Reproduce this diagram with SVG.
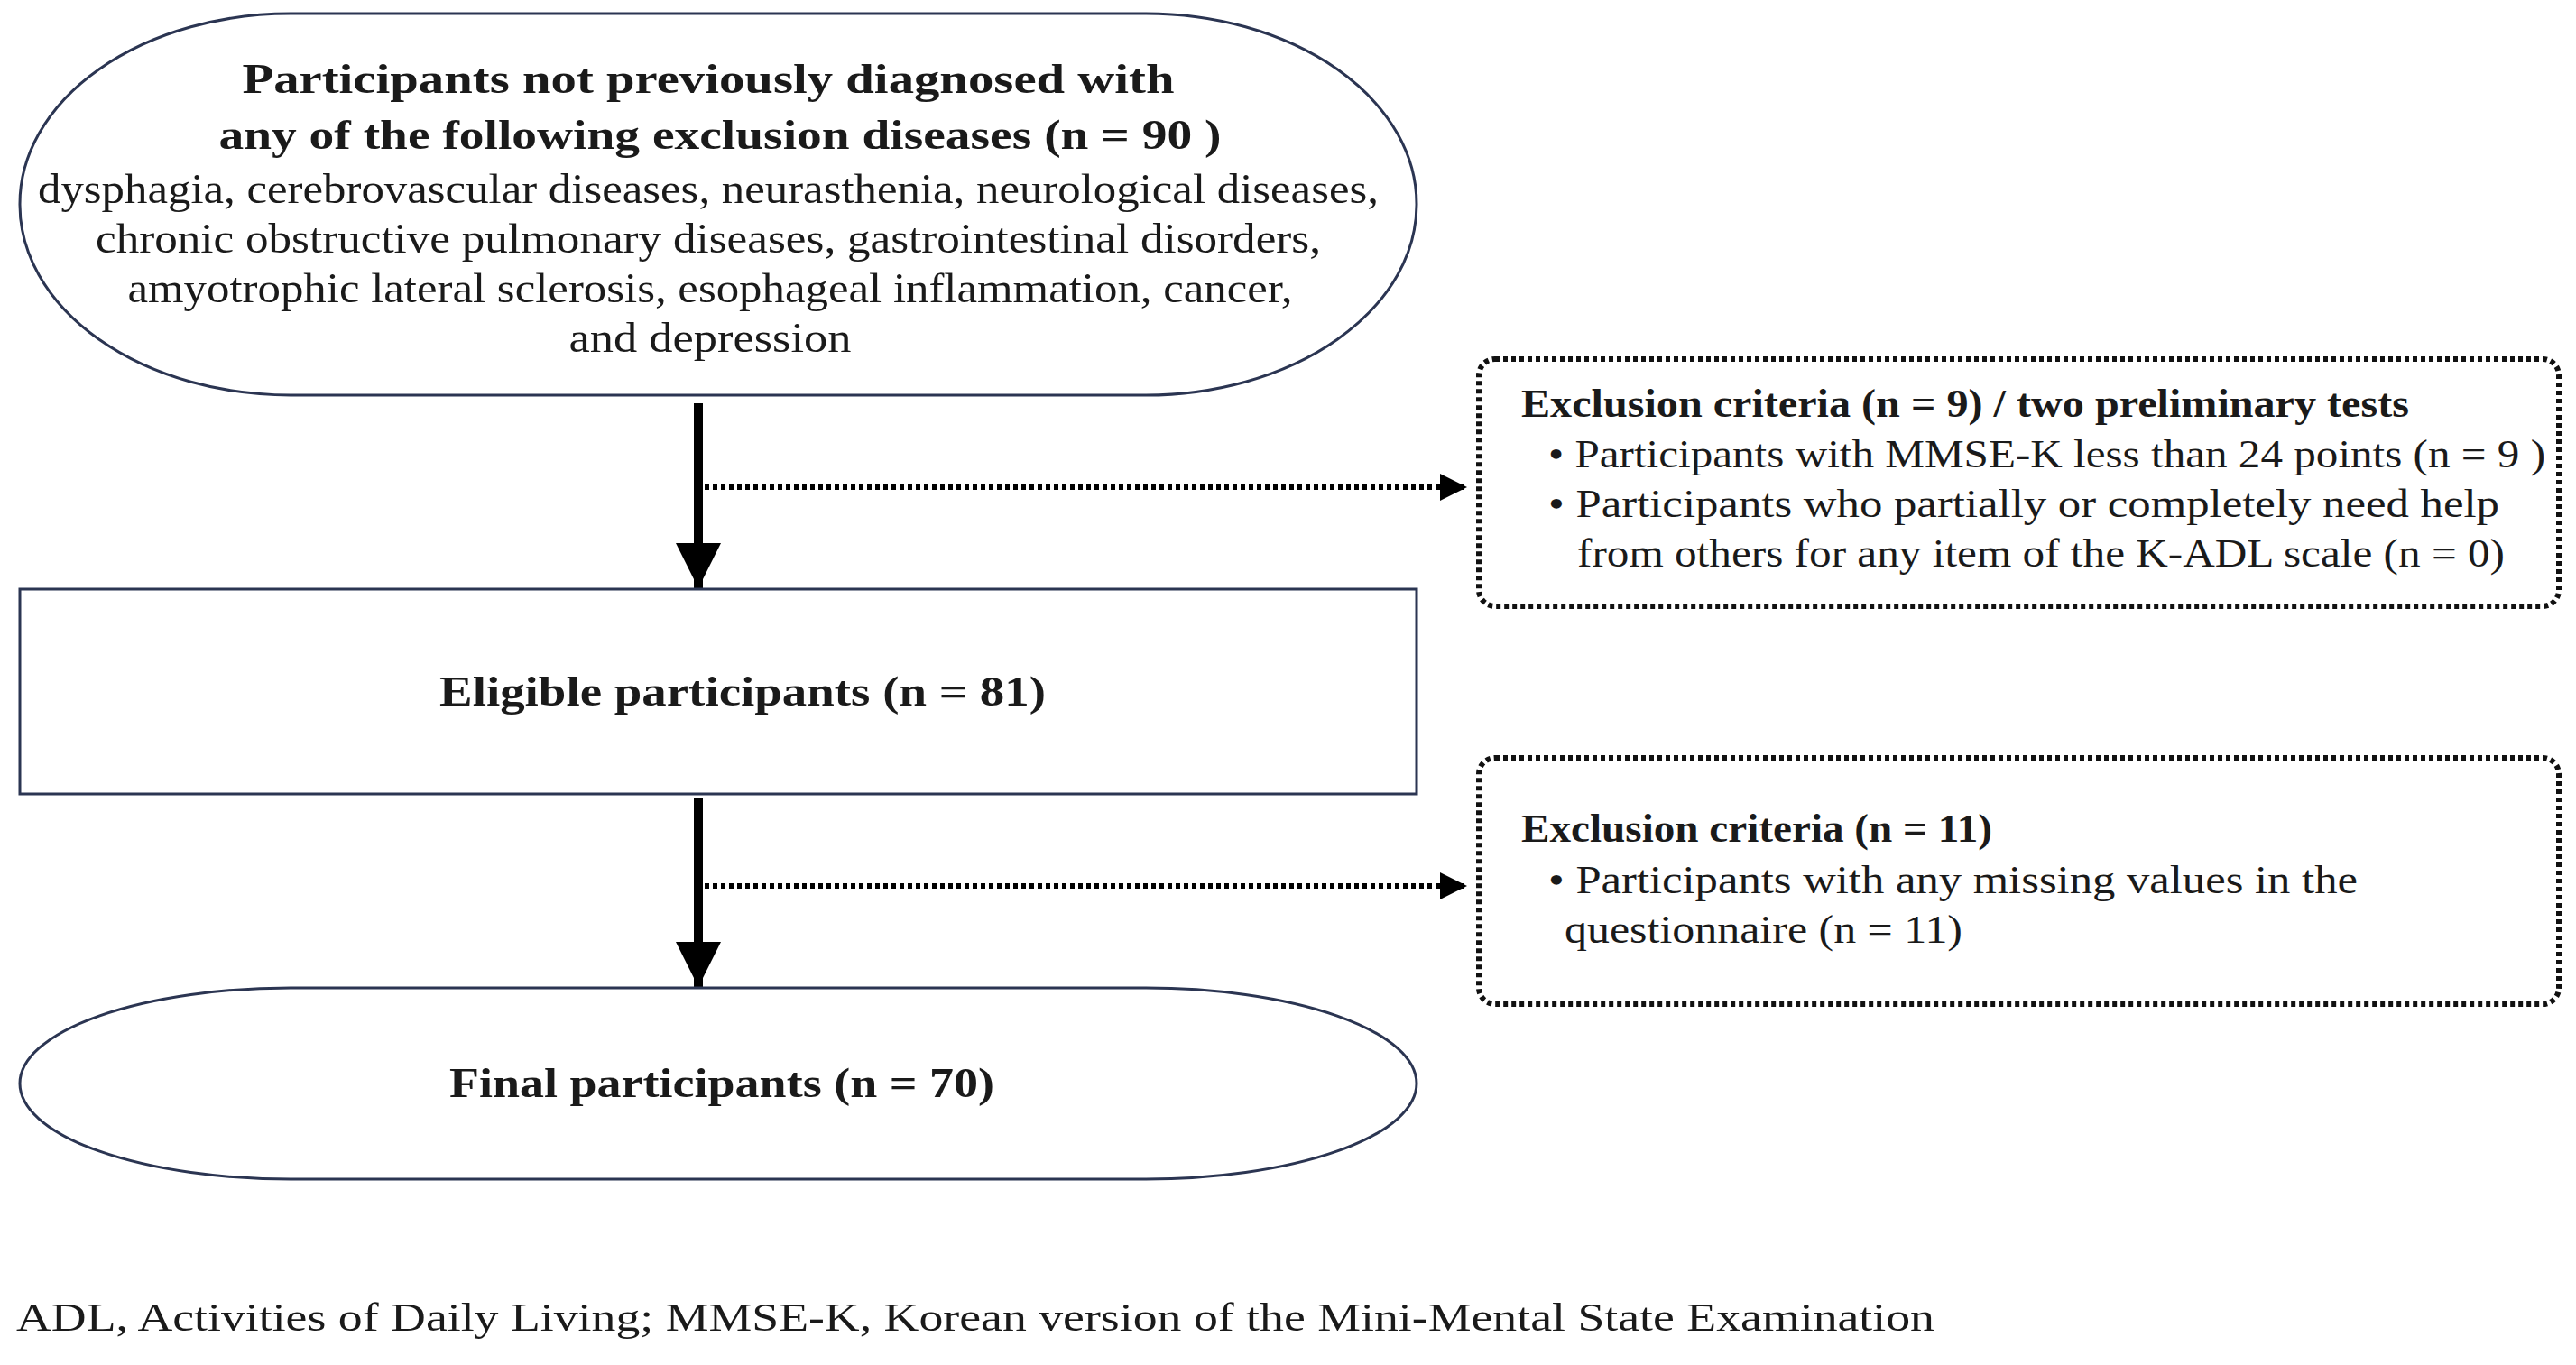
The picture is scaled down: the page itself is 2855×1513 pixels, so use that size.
<svg xmlns="http://www.w3.org/2000/svg" width="2855" height="1513" viewBox="0 0 2855 1513">
<style>
text{font-family:"Liberation Serif","DejaVu Serif",serif;fill:#1a1a1a}
.b{font-weight:bold;font-size:46px}
.r{font-size:46px}
.s{font-size:44px}
.n{fill:#fff;stroke:#2b3552;stroke-width:3}
.d{fill:none;stroke:#111;stroke-width:6;stroke-dasharray:5 4}
.a{stroke:#000;stroke-width:10;fill:none}
.da{stroke:#000;stroke-width:6;stroke-dasharray:5 4;fill:none}
</style>
<defs>
<marker id="ah" viewBox="0 0 10 10" refX="10" refY="5" markerWidth="5" markerHeight="5" orient="auto" markerUnits="strokeWidth"><path d="M0,0 L10,5 L0,10 z" fill="#000"/></marker>
<marker id="ah2" viewBox="0 0 10 10" refX="10" refY="5" markerWidth="5" markerHeight="5" orient="auto" markerUnits="strokeWidth"><path d="M0,0 L10,5 L0,10 z" fill="#000"/></marker>
</defs>
<rect width="2855" height="1513" fill="#fff"/>
<g id="connectors">
<line class="a" x1="774" y1="447" x2="774" y2="652" marker-end="url(#ah)"/>
<line class="a" x1="774" y1="885" x2="774" y2="1094" marker-end="url(#ah)"/>
<line class="da" x1="781" y1="540" x2="1626" y2="540" marker-end="url(#ah2)"/>
<line class="da" x1="781" y1="982" x2="1626" y2="982" marker-end="url(#ah2)"/>
</g>
<g id="start">
<rect class="n" x="22" y="15" width="1548" height="423" rx="300" ry="211"/>
<text class="b" x="785" y="103" text-anchor="middle" textLength="1033" lengthAdjust="spacingAndGlyphs">Participants not previously diagnosed with</text>
<text class="b" x="798" y="165" text-anchor="middle" textLength="1111" lengthAdjust="spacingAndGlyphs">any of the following exclusion diseases (n = 90 )</text>
<text class="r" x="785" y="225" text-anchor="middle" textLength="1486" lengthAdjust="spacingAndGlyphs">dysphagia, cerebrovascular diseases, neurasthenia, neurological diseases,</text>
<text class="r" x="785" y="280" text-anchor="middle" textLength="1358" lengthAdjust="spacingAndGlyphs">chronic obstructive pulmonary diseases, gastrointestinal disorders,</text>
<text class="r" x="787" y="335" text-anchor="middle" textLength="1291" lengthAdjust="spacingAndGlyphs">amyotrophic lateral sclerosis, esophageal inflammation, cancer,</text>
<text class="r" x="787" y="390" text-anchor="middle" textLength="313" lengthAdjust="spacingAndGlyphs">and depression</text>
</g>
<g id="eligible">
<rect class="n" x="22" y="653" width="1548" height="227"/>
<text class="b" x="823" y="782" text-anchor="middle" textLength="672" lengthAdjust="spacingAndGlyphs">Eligible participants (n = 81)</text>
</g>
<g id="final">
<rect class="n" x="22" y="1095" width="1548" height="212" rx="300" ry="106"/>
<text class="b" x="800" y="1216" text-anchor="middle" textLength="604" lengthAdjust="spacingAndGlyphs">Final participants (n = 70)</text>
</g>
<g id="excl1">
<rect class="d" x="1639" y="398" width="1197" height="274" rx="18"/>
<text class="s" x="1686" y="462" font-weight="bold" textLength="984" lengthAdjust="spacingAndGlyphs">Exclusion criteria (n = 9) / two preliminary tests</text>
<text class="s" x="1716" y="518" textLength="1105" lengthAdjust="spacingAndGlyphs">• Participants with MMSE-K less than 24 points (n = 9 )</text>
<text class="s" x="1716" y="573" textLength="1054" lengthAdjust="spacingAndGlyphs">• Participants who partially or completely need help</text>
<text class="s" x="1748" y="628" textLength="1028" lengthAdjust="spacingAndGlyphs">from others for any item of the K-ADL scale (n = 0)</text>
</g>
<g id="excl2">
<rect class="d" x="1639" y="840" width="1197" height="273" rx="18"/>
<text class="s" x="1686" y="933" font-weight="bold" textLength="522" lengthAdjust="spacingAndGlyphs">Exclusion criteria (n = 11)</text>
<text class="s" x="1716" y="990" textLength="897" lengthAdjust="spacingAndGlyphs">• Participants with any missing values in the</text>
<text class="s" x="1734" y="1045" textLength="441" lengthAdjust="spacingAndGlyphs">questionnaire (n = 11)</text>
</g>
<text class="s" x="18" y="1475" textLength="2126" lengthAdjust="spacingAndGlyphs">ADL, Activities of Daily Living; MMSE-K, Korean version of the Mini-Mental State Examination</text>
</svg>
